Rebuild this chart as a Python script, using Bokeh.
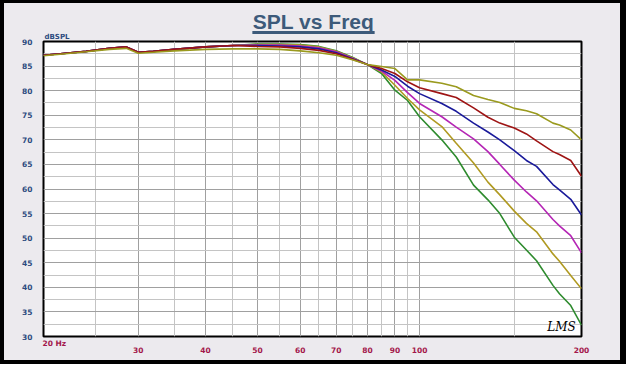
from bokeh.plotting import figure
from bokeh.models import FixedTicker, Label, Range1d, InlineStyleSheet
from bokeh.embed import file_html
from bokeh.resources import INLINE

freq = [20, 21.5, 24, 26.5, 28.5, 30, 32, 35, 40, 45,
        50, 55, 60, 65, 70, 75, 80,
        85, 90, 95, 100, 110, 117, 126, 134, 141, 150, 158, 165, 177, 182, 191, 200]

spl_a = [87.1, 87.4, 87.9, 88.4, 88.6, 87.6, 87.8, 88.1, 88.4, 88.5,
         88.5, 88.4, 88.1, 87.7, 87.2, 86.3, 85.3,
         84.9, 84.5, 82.2, 82.2, 81.5, 80.8, 79.0, 78.2, 77.6, 76.4, 75.9, 75.3, 73.4, 73.0, 72.0, 70.0]
spl_b = [87.2, 87.5, 88.0, 88.6, 88.9, 87.8, 88.0, 88.4, 88.9, 89.2,
         89.0, 88.9, 88.6, 88.2, 87.5, 86.4, 85.3,
         84.5, 83.5, 81.8, 80.6, 79.4, 78.6, 76.5, 74.6, 73.4, 72.4, 71.2, 69.8, 67.6, 67.0, 65.8, 62.6]
spl_c = [87.2, 87.5, 88.0, 88.6, 88.9, 87.8, 88.0, 88.4, 88.9, 89.2,
         89.2, 89.1, 88.9, 88.5, 87.7, 86.5, 85.3,
         84.2, 82.9, 80.9, 79.4, 77.4, 75.8, 73.4, 71.6, 70.0, 67.8, 65.8, 64.6, 60.9, 59.8, 57.9, 54.7]
spl_d = [87.2, 87.5, 88.0, 88.6, 88.9, 87.8, 88.0, 88.4, 88.9, 89.2,
         89.3, 89.3, 89.1, 88.7, 87.9, 86.6, 85.3,
         84.0, 82.1, 79.6, 77.4, 74.7, 72.6, 70.2, 67.6, 65.0, 61.8, 59.4, 57.6, 53.8, 52.5, 50.5, 47.0]
spl_e = [87.2, 87.5, 88.0, 88.6, 88.9, 87.8, 88.0, 88.4, 88.9, 89.2,
         89.4, 89.4, 89.3, 88.9, 88.0, 86.7, 85.3,
         83.8, 81.1, 78.4, 76.1, 72.7, 69.3, 65.3, 61.4, 58.8, 55.5, 53.0, 51.3, 46.8, 45.3, 42.4, 39.7]
spl_f = [87.2, 87.5, 88.0, 88.6, 88.9, 87.8, 88.0, 88.4, 88.9, 89.2,
         89.5, 89.5, 89.4, 89.0, 88.1, 86.8, 85.3,
         83.5, 80.1, 78.0, 74.7, 70.0, 66.5, 60.8, 57.8, 55.0, 50.2, 47.6, 45.4, 40.4, 38.7, 36.3, 32.3]

series = [
    (spl_f, "#2E8B2E"),
    (spl_e, "#B09A22"),
    (spl_d, "#B526B5"),
    (spl_c, "#1A1A9A"),
    (spl_b, "#9E1414"),
    (spl_a, "#9A9A1E"),
]

x_ticks = [20, 30, 40, 50, 60, 70, 80, 90, 100, 200]
x_minor = [25, 35, 45, 55, 65, 75, 85, 95, 150]
x_labels = ["", "30", "40", "50", "60", "70", "80", "90", "100", "200"]
y_ticks = [30, 35, 40, 45, 50, 55, 60, 65, 70, 75, 80, 85, 90]
y_minor = [32.5, 37.5, 42.5, 47.5, 52.5, 57.5, 62.5, 67.5, 72.5, 77.5, 82.5, 87.5]

title_text = "SPL vs Freq"
y_unit_text = "dBSPL"
x_first_text = "20 Hz"
logo_text = "LMS"

BG = "#ECEAEE"
TITLE_C = "#3D5A7A"
XLAB_C = "#A3174B"
YLAB_C = "#2C4C80"

W, H = 626, 364
FL, FR, FT, FB = 43, 581, 41, 338   # plot frame edges on the canvas (px)
X0, X1, Y0, Y1 = 20, 200, 30, 90

frame_css = InlineStyleSheet(css="""
:host::after {
  content: "";
  position: absolute;
  left: 0; top: 0;
  width: 626px; height: 364px;
  box-sizing: border-box;
  border-style: solid;
  border-color: black;
  border-width: 3px 6px 4px 4px;
  pointer-events: none;
  z-index: 1000;
}
""")

p = figure(width=W, height=H, x_axis_type="log",
           x_range=Range1d(X0, X1), y_range=Range1d(Y0, Y1),
           output_backend="svg", toolbar_location=None, title=None,
           min_border_left=FL, min_border_right=W - FR,
           min_border_top=FT, min_border_bottom=H - FB,
           stylesheets=[frame_css])

p.background_fill_color = "white"
p.border_fill_color = BG
p.outline_line_color = "black"
p.outline_line_width = 2

for ys, c in series:
    p.line(freq, ys, line_color=c, line_width=1.6)

p.xaxis.ticker = FixedTicker(ticks=x_ticks, minor_ticks=x_minor)
p.yaxis.ticker = FixedTicker(ticks=y_ticks, minor_ticks=y_minor)
p.xaxis.major_label_overrides = {t: l for t, l in zip(x_ticks, x_labels)}
for ax in (p.xaxis, p.yaxis):
    ax.axis_line_color = None
    ax.major_tick_line_color = None
    ax.minor_tick_line_color = None
    ax.major_label_text_font = "DejaVu Sans"
    ax.major_label_text_font_style = "bold"
    ax.major_label_text_font_size = "7.5px"
p.xaxis.major_label_text_color = XLAB_C
p.yaxis.major_label_text_color = YLAB_C
p.xaxis.major_label_standoff = 4
p.yaxis.major_label_standoff = 5

for g in (p.xgrid, p.ygrid):
    g.grid_line_color = "#A0A0A0"
    g.grid_line_width = 1
    g.minor_grid_line_color = "#C4C4C4"
    g.minor_grid_line_width = 1


def x_at(px):
    # axis value at a canvas pixel column (log axis)
    return X0 * (X1 / X0) ** ((px - FL) / (FR - FL))


def y_at(py):
    # axis value at a canvas pixel row
    return Y1 - (py - FT) * (Y1 - Y0) / (FB - FT)


def text_label(px, py, txt, align, size, color, font="DejaVu Sans", style="bold"):
    return Label(x=x_at(px), y=y_at(py), text=txt, text_align=align,
                 text_baseline="middle", text_font=font, text_font_style=style,
                 text_font_size=size, text_color=color)


def bar(l, r, t, b, color):
    # small filled strip drawn as the background of a blank label
    # (padding tuple is (horizontal, vertical))
    cx, cy = (l + r) / 2, (t + b) / 2
    return Label(x=x_at(cx), y=y_at(cy), text=" ", text_align="center",
                 text_baseline="middle", text_font_size="1px", text_color=color,
                 background_fill_color=color, background_fill_alpha=1,
                 border_line_color=None,
                 padding=(max(1, round((r - l) / 2)), max(1, round((b - t) / 2))))


p.add_layout(text_label(313, 20.5, title_text, "center", "21px", TITLE_C,
                        font="Liberation Sans"), "above")
p.add_layout(bar(252, 374, 31, 33, TITLE_C), "above")
p.add_layout(text_label(44, 36.5, y_unit_text, "left", "7px", YLAB_C), "right")
p.add_layout(text_label(42, 345.5, x_first_text, "left", "7.5px", XLAB_C), "below")
p.add_layout(text_label(561, 328, logo_text, "center", "12px", "black",
                        font="DejaVu Serif", style="italic"))

open("out.html", "w").write(file_html(p, INLINE))
